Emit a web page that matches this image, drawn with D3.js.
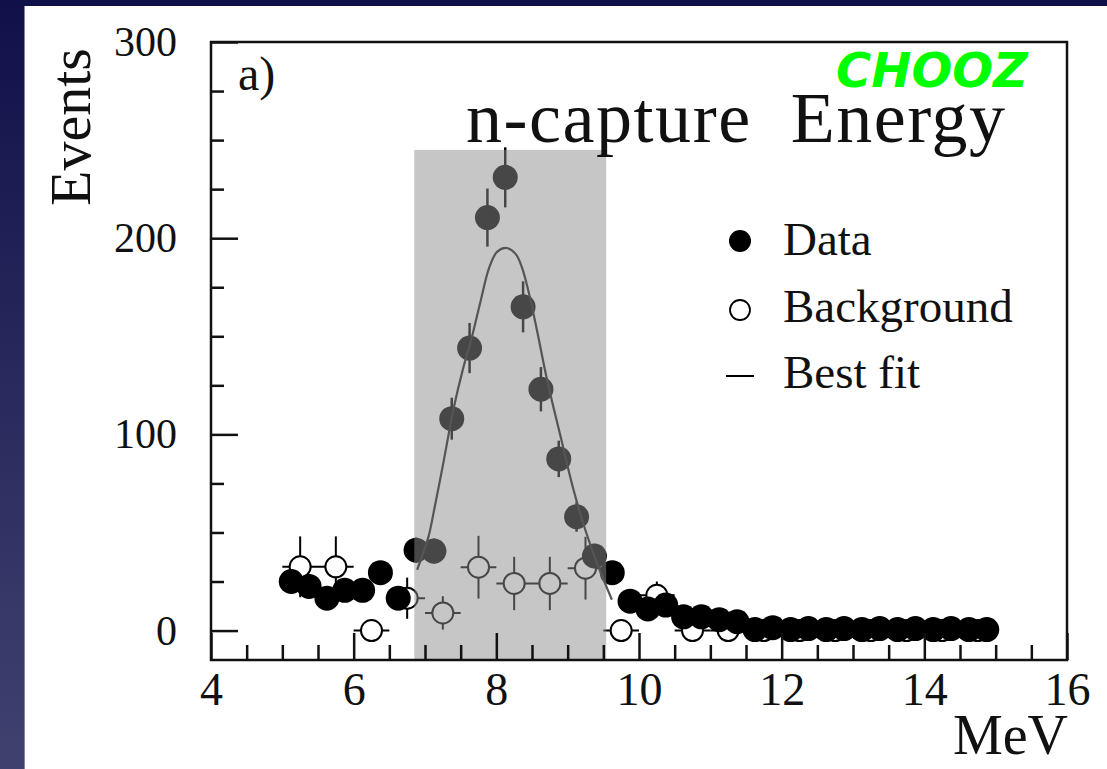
<!DOCTYPE html>
<html>
<head>
<meta charset="utf-8">
<script src="https://cdn.jsdelivr.net/npm/d3@7"></script>
<style>
  html, body { margin: 0; padding: 0; background: #12124b; }
  svg { display: block; }
  .serif { font-family: "Liberation Serif", "Times New Roman", serif; fill: #111; }
</style>
</head>
<body>
<svg id="chart"></svg>
<script>
// data
const dataEnergy = [5.125, 5.375, 5.625, 5.875, 6.125, 6.375, 6.625, 6.875, 7.125, 7.375,
  7.625, 7.875, 8.125, 8.375, 8.625, 8.875, 9.125, 9.375, 9.625, 9.875,
  10.125, 10.375, 10.625, 10.875, 11.125, 11.375, 11.625, 11.875, 12.125, 12.375,
  12.625, 12.875, 13.125, 13.375, 13.625, 13.875, 14.125, 14.375, 14.625, 14.875];
const dataEvents = [25, 22.5, 16.5, 20.5, 20.5, 29.5, 16.5, 41, 40.5, 108,
  144, 210.5, 231, 165, 123, 87.5, 58, 38, 29.5, 15,
  11, 13, 7, 7, 5.5, 4.5, 0.5, 1.5, 0.5, 1,
  0.5, 1, 0.5, 1, 0.5, 1, 0.5, 1, 0.5, 0.5];
const dataErr = [5, 4.7, 4, 4.5, 4.5, 5.4, 4, 6.4, 6.4, 10.7,
  12.8, 14.8, 15.3, 13, 11.3, 9.3, 7.6, 6.2, 5.4, 3.9,
  3.3, 3.6, 2.6, 2.6, 2.3, 2.1, 1, 1.2, 1, 1,
  1, 1, 1, 1, 1, 1, 1, 1, 1, 1];

const bkgEnergy = [5.25, 5.75, 6.25, 6.75, 7.25, 7.75, 8.25, 8.75, 9.25, 9.75,
  10.25, 10.75, 11.25, 11.75, 12.25, 12.75, 13.25, 13.75, 14.25, 14.75];
const bkgEvents = [32.5, 32.5, 0, 16.5, 9, 32.3, 24, 24, 31.8, 0,
  18, 0, 0, 0, 0, 0, 0, 0, 0, 0];
const bkgErr = [15.5, 15.5, 0, 10.5, 8.5, 16, 13.6, 13.6, 16, 0,
  7, 0, 0, 0, 0, 0, 0, 0, 0, 0];

const fitEnergy = [6.89, 7.05, 7.12, 7.26, 7.40, 7.53, 7.66, 7.78, 7.90, 8.01, 8.14,
  8.27, 8.36, 8.45, 8.57, 8.71, 8.90, 9.08, 9.25, 9.41, 9.62];
const fitEvents = [31, 48, 60, 86, 113, 133, 150, 168, 185, 193, 195,
  192, 185, 173, 153, 128, 99, 72, 51, 34.5, 15.7];

const windowLow = 6.85, windowHigh = 9.54, windowTop = 245;
const xMajorTicks = [4, 6, 8, 10, 12, 14, 16];
const xMinorTicks = [4.5, 5, 5.5, 6.5, 7, 7.5, 8.5, 9, 9.5, 10.5, 11, 11.5, 12.5, 13, 13.5, 14.5, 15, 15.5];
const yMajorTicks = [0, 100, 200, 300];
const yMinorTicks = [25, 50, 75, 125, 150, 175, 225, 250, 275];

const W = 1107, H = 769;
const svg = d3.select("#chart").attr("width", W).attr("height", H);

// page background
const defs = svg.append("defs");
const grad = defs.append("linearGradient").attr("id", "bg")
  .attr("x1", 0).attr("y1", 0).attr("x2", 0).attr("y2", 1);
grad.append("stop").attr("offset", "0%").attr("stop-color", "#11114a");
grad.append("stop").attr("offset", "100%").attr("stop-color", "#414170");
svg.append("rect").attr("width", W).attr("height", H).attr("fill", "url(#bg)");
svg.append("rect").attr("x", 25).attr("y", 6).attr("width", W - 25).attr("height", H - 6)
  .attr("fill", "#fff");
svg.append("line").attr("x1", 24.5).attr("x2", 24.5).attr("y1", 6).attr("y2", H)
  .attr("stroke", "#8686a6").attr("stroke-width", 1);

const x = d3.scaleLinear().domain([4, 16]).range([211, 1067]);
const y = d3.scaleLinear().domain([-15, 300]).range([660, 42]);

// background points first, data on top
const bkg = svg.append("g").selectAll("g")
  .data(bkgEnergy.map((e, i) => ({ e: e, v: bkgEvents[i], err: bkgErr[i] })))
  .enter().append("g");
bkg.filter(d => d.err > 0).append("line")
  .attr("x1", d => x(d.e)).attr("x2", d => x(d.e))
  .attr("y1", d => y(d.v - d.err)).attr("y2", d => y(d.v + d.err))
  .attr("stroke", "#000").attr("stroke-width", 2);
bkg.append("line")
  .attr("x1", d => x(d.e - 0.25)).attr("x2", d => x(d.e + 0.25))
  .attr("y1", d => y(d.v)).attr("y2", d => y(d.v))
  .attr("stroke", "#000").attr("stroke-width", 2);
bkg.append("circle")
  .attr("cx", d => x(d.e)).attr("cy", d => y(d.v)).attr("r", 10.5)
  .attr("fill", "#fff").attr("stroke", "#000").attr("stroke-width", 2);

const pts = svg.append("g").selectAll("g")
  .data(dataEnergy.map((e, i) => ({ e: e, v: dataEvents[i], err: dataErr[i] })))
  .enter().append("g");
pts.append("line")
  .attr("x1", d => x(d.e)).attr("x2", d => x(d.e))
  .attr("y1", d => y(d.v - d.err)).attr("y2", d => y(d.v + d.err))
  .attr("stroke", "#000").attr("stroke-width", 2.5);
pts.append("circle")
  .attr("cx", d => x(d.e)).attr("cy", d => y(d.v)).attr("r", 12.5)
  .attr("fill", "#000");

// selection window (shaded)
svg.append("rect")
  .attr("x", x(windowLow)).attr("width", x(windowHigh) - x(windowLow))
  .attr("y", y(windowTop)).attr("height", y(-15) - y(windowTop))
  .attr("fill", "#8e8e8e").attr("fill-opacity", 0.5);

// best fit
const fitLine = d3.line().x(d => x(d[0])).y(d => y(d[1])).curve(d3.curveCatmullRom);
svg.append("path")
  .datum(fitEnergy.map((e, i) => [e, fitEvents[i]]))
  .attr("d", fitLine)
  .attr("fill", "none").attr("stroke", "#555").attr("stroke-width", 2.2);

// axes
const axisStyle = g => {
  g.select(".domain").remove();
  g.selectAll(".tick line").attr("stroke", "#111").attr("stroke-width", 2.5);
};
svg.append("g").attr("transform", "translate(0,660)")
  .call(d3.axisBottom(x).tickValues(xMajorTicks).tickSize(-27).tickPadding(12).tickFormat(d3.format("d")))
  .call(axisStyle)
  .selectAll("text").attr("class", "serif").attr("font-size", 46).attr("fill", "#111");
svg.append("g").attr("transform", "translate(0,660)")
  .call(d3.axisBottom(x).tickValues(xMinorTicks).tickSize(-15).tickFormat(""))
  .call(axisStyle);
svg.append("g").attr("transform", "translate(211,0)")
  .call(d3.axisLeft(y).tickValues(yMajorTicks).tickSize(-27).tickPadding(34).tickFormat(d3.format("d")))
  .call(axisStyle)
  .selectAll("text").attr("class", "serif").attr("font-size", 42).attr("fill", "#111");
svg.append("g").attr("transform", "translate(211,0)")
  .call(d3.axisLeft(y).tickValues(yMinorTicks).tickSize(-13).tickFormat(""))
  .call(axisStyle);

svg.append("rect")
  .attr("x", x(4)).attr("y", y(300)).attr("width", x(16) - x(4)).attr("height", y(-15) - y(300))
  .attr("fill", "none").attr("stroke", "#111").attr("stroke-width", 2.5);

// texts
svg.append("text").attr("class", "serif")
  .attr("transform", "translate(90,127) rotate(-90)")
  .attr("text-anchor", "middle").attr("font-size", 58).text("Events");
svg.append("text").attr("class", "serif")
  .attr("x", 1068).attr("y", 754).attr("text-anchor", "end").attr("font-size", 56).text("MeV");
svg.append("text").attr("class", "serif")
  .attr("x", 238).attr("y", 90).attr("font-size", 48).text("a)");
svg.append("text").attr("class", "serif")
  .attr("x", 466).attr("y", 142).attr("font-size", 72)
  .attr("textLength", 539).attr("lengthAdjust", "spacing")
  .style("white-space", "pre").text("n-capture  Energy");
svg.append("text")
  .attr("x", 836).attr("y", 87).attr("font-size", 48)
  .attr("font-family", "DejaVu Sans, sans-serif").attr("font-weight", "bold").attr("font-style", "italic")
  .attr("fill", "#00ff00").text("CHOOZ");

// legend
const legend = svg.append("g");
legend.append("circle").attr("cx", 740).attr("cy", 241).attr("r", 11).attr("fill", "#000");
legend.append("circle").attr("cx", 740).attr("cy", 310).attr("r", 10)
  .attr("fill", "#fff").attr("stroke", "#000").attr("stroke-width", 1.8);
legend.append("line").attr("x1", 726).attr("x2", 754).attr("y1", 376).attr("y2", 376)
  .attr("stroke", "#000").attr("stroke-width", 2);
const legendLabels = ["Data", "Background", "Best fit"];
const legendBase = [255, 322, 388];
legend.selectAll("text").data(legendLabels).enter().append("text")
  .attr("class", "serif").attr("x", 783).attr("y", (d, i) => legendBase[i])
  .attr("font-size", 47).text(d => d);
</script>
</body>
</html>
